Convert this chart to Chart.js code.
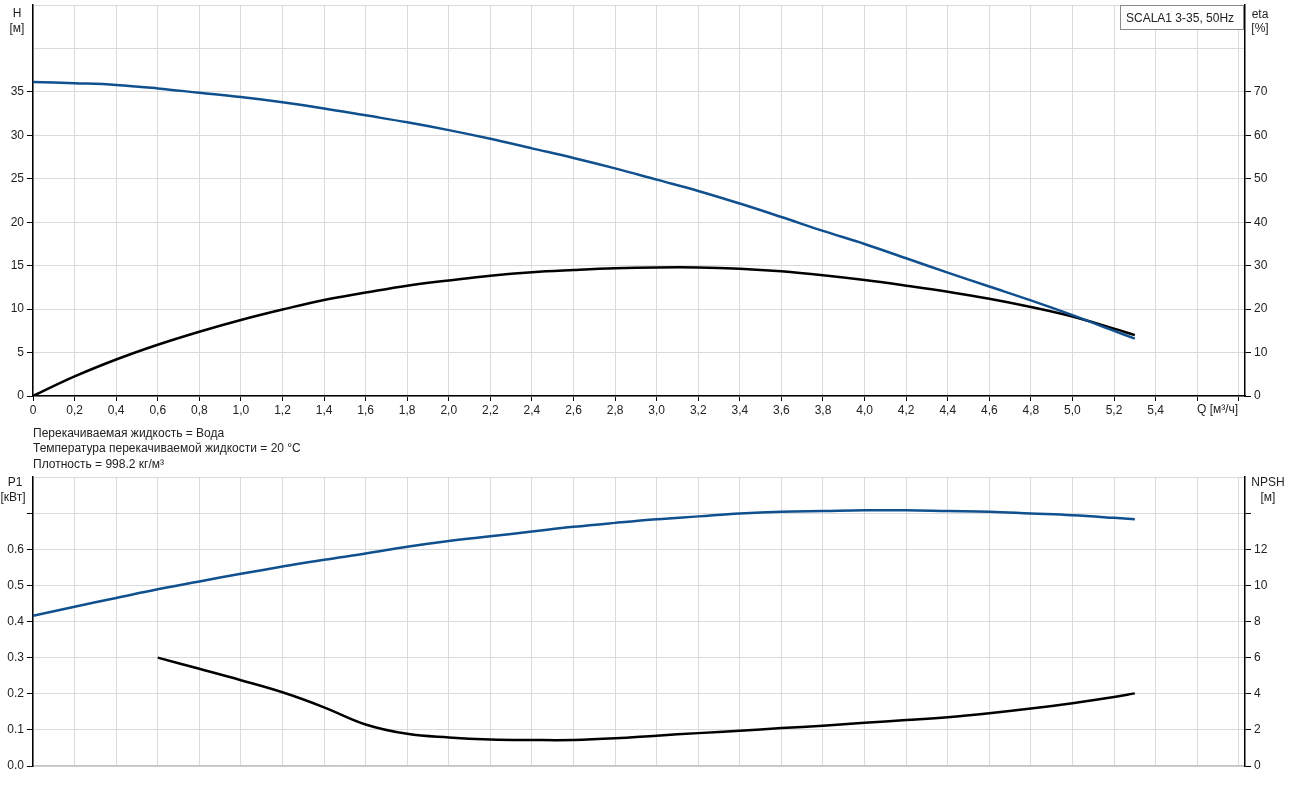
<!DOCTYPE html>
<html>
<head>
<meta charset="utf-8">
<script src="https://cdn.jsdelivr.net/npm/chart.js@4.4.1/dist/chart.umd.min.js"></script>
<style>
  body { margin: 0; background: #fff; font-family: "Liberation Sans", Arial, sans-serif; color: #222; }
  #wrap { position: relative; width: 1303px; height: 799px; overflow: hidden; }
  canvas { position: absolute; left: 0; }
  .lbl { position: absolute; font-size: 12px; line-height: 14px; white-space: nowrap; }
  .c { text-align: center; }
  #box { position: absolute; left: 1120px; top: 5px; width: 124px; height: 25px; border: 1px solid #8a8a8a;
         background: #fff; font-size: 12px; line-height: 25px; padding-left: 5px; box-sizing: border-box; }
</style>
</head>
<body>
<div id="wrap">
  <canvas id="topChart" width="1303" height="430" style="top:0;width:1303px;height:430px"></canvas>
  <canvas id="bottomChart" width="1303" height="329" style="top:470px;width:1303px;height:329px"></canvas>

  <div class="lbl c" style="left:2px;top:6px;width:30px">H</div>
  <div class="lbl c" style="left:2px;top:21px;width:30px">[м]</div>
  <div class="lbl c" style="left:1245px;top:7px;width:30px">eta</div>
  <div class="lbl c" style="left:1245px;top:21px;width:30px">[%]</div>
  <div id="box">SCALA1 3-35, 50Hz</div>
  <div class="lbl" style="left:1197px;top:402px">Q [м³/ч]</div>

  <div class="lbl" style="left:33px;top:426px">Перекачиваемая жидкость = Вода</div>
  <div class="lbl" style="left:33px;top:441px">Температура перекачиваемой жидкости = 20 °C</div>
  <div class="lbl" style="left:33px;top:457px">Плотность = 998.2 кг/м³</div>

  <div class="lbl c" style="left:0px;top:475px;width:30px">P1</div>
  <div class="lbl c" style="left:-2px;top:490px;width:30px">[кВт]</div>
  <div class="lbl c" style="left:1248px;top:475px;width:40px">NPSH</div>
  <div class="lbl c" style="left:1248px;top:490px;width:40px">[м]</div>
</div>

<script>
// Flow points (m³/h)
const qValues = [0, 0.2, 0.4, 0.6, 0.8, 1.0, 1.2, 1.4, 1.6, 1.8, 2.0, 2.2, 2.4, 2.6, 2.8,
                 3.0, 3.2, 3.4, 3.6, 3.8, 4.0, 4.2, 4.4, 4.6, 4.8, 5.0, 5.2, 5.3];
// Head H (m)
const headValues = [36.15, 36.0, 35.8, 35.4, 34.9, 34.4, 33.8, 33.1, 32.3, 31.5, 30.6, 29.6, 28.5, 27.4, 26.2,
                    24.9, 23.6, 22.15, 20.6, 19.0, 17.5, 15.85, 14.2, 12.6, 11.0, 9.3, 7.5, 6.6];
// Efficiency eta (%)
const etaValues = [0, 4.5, 8.4, 11.8, 14.8, 17.5, 19.9, 22.1, 23.8, 25.4, 26.6, 27.7, 28.5, 29.0, 29.4,
                   29.6, 29.6, 29.3, 28.7, 27.8, 26.7, 25.4, 24.0, 22.4, 20.5, 18.3, 15.5, 14.0];
// Power P1 (kW)
const p1Values = [0.416, 0.441, 0.465, 0.489, 0.511, 0.532, 0.552, 0.571, 0.588, 0.607, 0.623, 0.636, 0.649, 0.662, 0.673,
                  0.683, 0.691, 0.699, 0.704, 0.706, 0.708, 0.708, 0.706, 0.704, 0.699, 0.694, 0.687, 0.683];
// NPSH (m), starts at 0.6 m³/h
const qNpsh = [0.6, 0.8, 1.0, 1.2, 1.4, 1.6, 1.8, 2.0, 2.2, 2.4, 2.6, 2.8, 3.0, 3.2, 3.4, 3.6, 3.8,
               4.0, 4.2, 4.4, 4.6, 4.8, 5.0, 5.2, 5.3];
const npshValues = [6.0, 5.38, 4.75, 4.08, 3.25, 2.3, 1.78, 1.58, 1.47, 1.44, 1.44, 1.53, 1.68, 1.82, 1.95, 2.1, 2.23,
                    2.39, 2.54, 2.7, 2.92, 3.18, 3.48, 3.82, 4.02];

// Axis ticks
const qTicks = [0, 0.2, 0.4, 0.6, 0.8, 1.0, 1.2, 1.4, 1.6, 1.8, 2.0, 2.2, 2.4, 2.6, 2.8,
                3.0, 3.2, 3.4, 3.6, 3.8, 4.0, 4.2, 4.4, 4.6, 4.8, 5.0, 5.2, 5.4, 5.6, 5.8];
const qLabelMax = 5.4;
const hTicks = [0, 5, 10, 15, 20, 25, 30, 35, 40, 45];
const hLabelMax = 35;
const etaTicks = [0, 10, 20, 30, 40, 50, 60, 70, 80, 90];
const etaLabelMax = 70;
const p1Ticks = [0, 0.1, 0.2, 0.3, 0.4, 0.5, 0.6, 0.7, 0.8];
const p1LabelMax = 0.6, p1TickMax = 0.7;
const npshTicks = [0, 2, 4, 6, 8, 10, 12, 14, 16];
const npshLabelMax = 12, npshTickMax = 14;

const BLUE = '#10508e';
const GRID = '#dadada';
const FONT = { family: '"Liberation Sans", Arial, sans-serif', size: 12 };

function pts(xs, ys) { return xs.map((x, i) => ({ x: x, y: ys[i] })); }
function setTicks(list) { return function(scale) { scale.ticks = list.map(v => ({ value: v })); }; }
function hideAbove(max) {
  return function(ctx) { return ctx.tick && ctx.tick.value > max + 1e-9 ? 'rgba(0,0,0,0)' : '#000'; };
}
// fixed axis sizes, no extra padding for overflowing labels
function fixWidth(w) {
  return function(s) { s.width = w; s.paddingTop = 0; s.paddingBottom = 0; };
}
function fixHeight(h) {
  return function(s) { s.height = h; s.paddingLeft = 0; s.paddingRight = 0; };
}

function lineSet(data, color, axis) {
  return { data: data, yAxisID: axis, borderColor: color, borderWidth: 2.5, pointRadius: 0,
           fill: false, tension: 0.4 };
}

// Top chart: H and eta
new Chart(document.getElementById('topChart'), {
  type: 'line',
  data: {
    datasets: [
      lineSet(pts(qValues, headValues), BLUE, 'yH'),
      lineSet(pts(qValues, etaValues), '#000', 'yEta')
    ]
  },
  options: {
    responsive: false,
    animation: false,
    layout: { padding: { top: 5, left: 0, right: 0, bottom: 0 } },
    plugins: { legend: { display: false }, tooltip: { enabled: false } },
    scales: {
      x: {
        type: 'linear', min: 0, max: 5.83,
        afterBuildTicks: setTicks(qTicks),
        afterFit: fixHeight(34),
        grid: { color: GRID, tickColor: '#000', tickLength: 5 },
        border: { color: '#000', width: 1.5 },
        ticks: {
          font: FONT, color: '#222', padding: 2, maxRotation: 0, autoSkip: false,
          callback: function(v) { return v > qLabelMax + 1e-9 ? '' : (v === 0 ? '0' : v.toFixed(1).replace('.', ',')); }
        }
      },
      yH: {
        type: 'linear', position: 'left', min: 0, max: 45,
        afterBuildTicks: setTicks(hTicks),
        afterFit: fixWidth(33),
        grid: { color: GRID, tickColor: hideAbove(hLabelMax), tickLength: 6 },
        border: { color: '#000', width: 1.5 },
        ticks: { font: FONT, color: '#222', padding: 3,
                 callback: function(v) { return v > hLabelMax ? '' : String(v); } }
      },
      yEta: {
        type: 'linear', position: 'right', min: 0, max: 90,
        afterBuildTicks: setTicks(etaTicks),
        afterFit: fixWidth(58),
        grid: { drawOnChartArea: false, tickColor: hideAbove(etaLabelMax), tickLength: 6 },
        border: { color: '#000', width: 1.5 },
        ticks: { font: FONT, color: '#222', padding: 3,
                 callback: function(v) { return v > etaLabelMax ? '' : String(v); } }
      }
    }
  }
});

// Bottom chart: P1 and NPSH
new Chart(document.getElementById('bottomChart'), {
  type: 'line',
  data: {
    datasets: [
      lineSet(pts(qValues, p1Values), BLUE, 'yP'),
      lineSet(pts(qNpsh, npshValues), '#000', 'yN')
    ]
  },
  options: {
    responsive: false,
    animation: false,
    layout: { padding: { top: 7, left: 0, right: 0, bottom: 0 } },
    plugins: { legend: { display: false }, tooltip: { enabled: false } },
    scales: {
      x: {
        type: 'linear', min: 0, max: 5.83,
        afterBuildTicks: setTicks(qTicks),
        afterFit: fixHeight(33),
        grid: { color: GRID, drawTicks: false },
        border: { color: '#c4c4c4', width: 1.5 },
        ticks: { display: false }
      },
      yP: {
        type: 'linear', position: 'left', min: 0, max: 0.8,
        afterBuildTicks: setTicks(p1Ticks),
        afterFit: fixWidth(33),
        grid: { color: GRID, tickColor: hideAbove(p1TickMax), tickLength: 6 },
        border: { color: '#000', width: 1.5 },
        ticks: { font: FONT, color: '#222', padding: 3,
                 callback: function(v) { return v > p1LabelMax + 1e-9 ? '' : v.toFixed(1); } }
      },
      yN: {
        type: 'linear', position: 'right', min: 0, max: 16,
        afterBuildTicks: setTicks(npshTicks),
        afterFit: fixWidth(58),
        grid: { drawOnChartArea: false, tickColor: hideAbove(npshTickMax), tickLength: 6 },
        border: { color: '#000', width: 1.5 },
        ticks: { font: FONT, color: '#222', padding: 3,
                 callback: function(v) { return v > npshLabelMax ? '' : String(v); } }
      }
    }
  }
});
</script>
</body>
</html>
